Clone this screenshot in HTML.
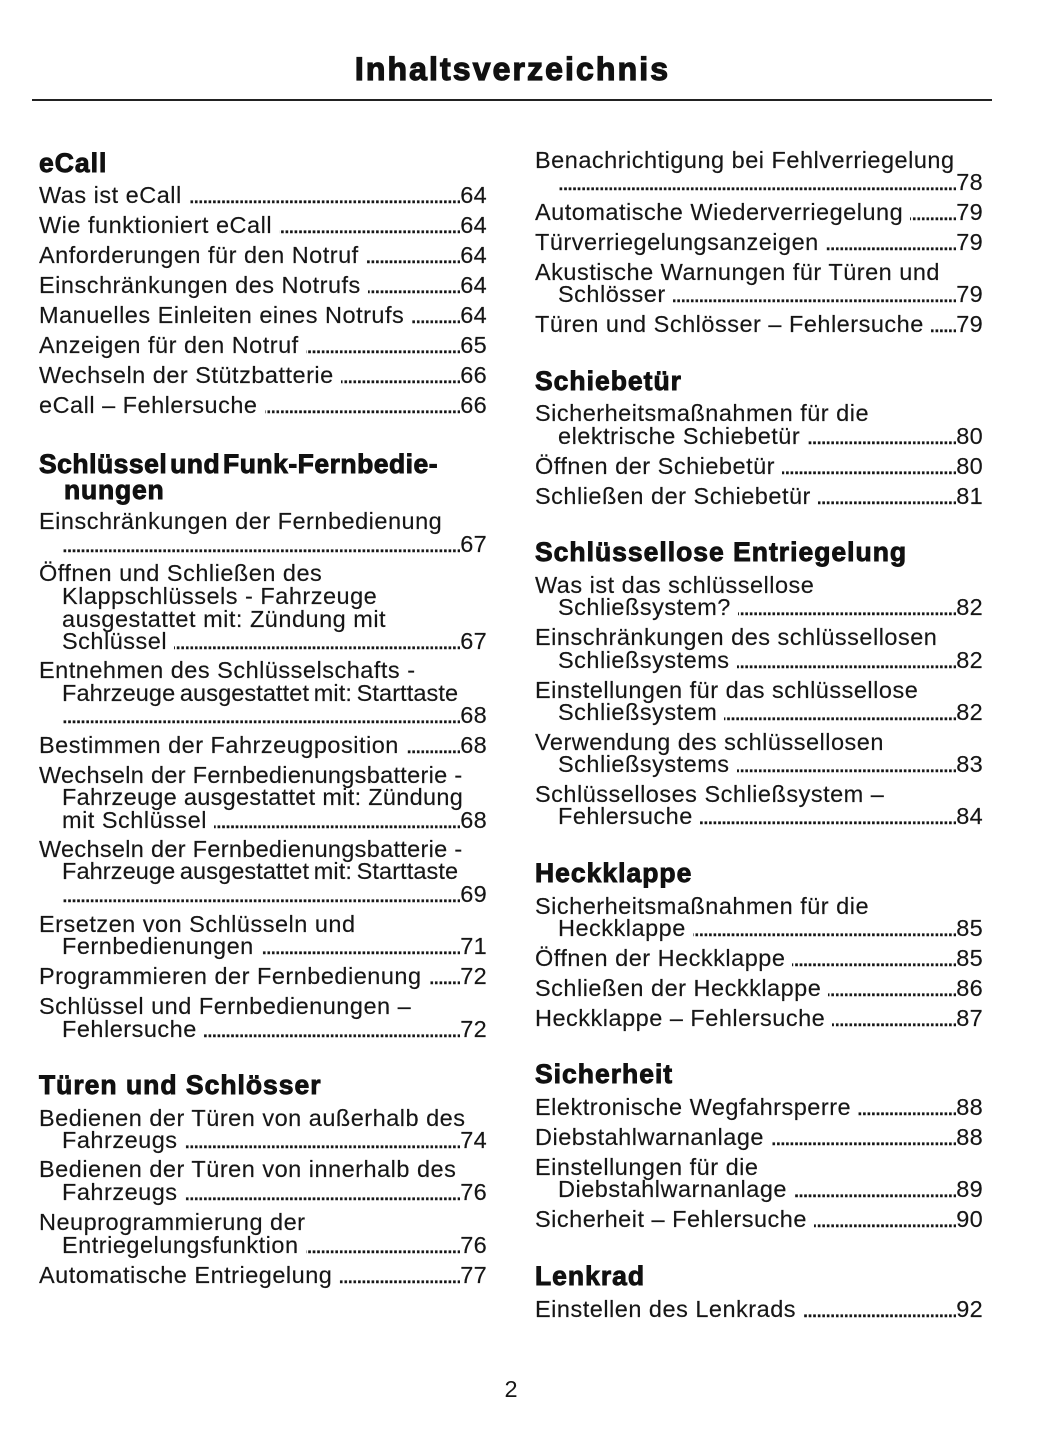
<!DOCTYPE html>
<html lang="de">
<head>
<meta charset="utf-8">
<style>
html,body{margin:0;padding:0;background:#fff;}
body{width:1055px;height:1448px;position:relative;overflow:hidden;font-family:"Liberation Sans",Arial,sans-serif;color:#161616;}
.t{position:absolute;left:0;width:1025px;top:49px;height:40px;line-height:40px;text-align:center;font-weight:bold;font-size:32px;letter-spacing:2.1px;color:#111;-webkit-text-stroke:1.2px #111;}
.rule{position:absolute;left:32px;top:99px;width:960px;height:2px;background:#222;}
.h{position:absolute;height:30px;line-height:30px;font-size:26.5px;font-weight:bold;letter-spacing:1.0px;white-space:nowrap;color:#111;-webkit-text-stroke:0.9px #111;}
.b{position:absolute;height:24px;line-height:24px;font-size:23.5px;letter-spacing:0.5px;white-space:nowrap;display:flex;align-items:baseline;-webkit-text-stroke:0.15px #161616;}
.L{left:39px;width:448px;}
.Li{left:62px;width:425px;}
.R{left:535px;width:448px;}
.Ri{left:558px;width:425px;}
.b i{flex:1;overflow:hidden;direction:rtl;font-style:normal;letter-spacing:-2px;margin-left:7px;min-width:0;-webkit-text-stroke:0.4px #161616;}
.b i.n{margin-left:0;}
.b i::before{content:"........................................................................................................................";}
.b b{font-weight:normal;letter-spacing:0.3px;}
.pg{position:absolute;left:0;width:1022px;text-align:center;top:1377px;height:24px;line-height:24px;font-size:23.5px;}
</style>
</head>
<body>
<div class="t">Inhaltsverzeichnis</div>
<div class="rule"></div>

<!-- LEFT COLUMN -->
<div class="h" style="left:39px;top:147.5px">eCall</div>
<div class="b L" style="top:183px"><span>Was ist eCall</span><i></i><b>64</b></div>
<div class="b L" style="top:213px"><span>Wie funktioniert eCall</span><i></i><b>64</b></div>
<div class="b L" style="top:243px"><span>Anforderungen für den Notruf</span><i></i><b>64</b></div>
<div class="b L" style="top:273px"><span>Einschränkungen des Notrufs</span><i></i><b>64</b></div>
<div class="b L" style="top:303px"><span>Manuelles Einleiten eines Notrufs</span><i></i><b>64</b></div>
<div class="b L" style="top:333px"><span>Anzeigen für den Notruf</span><i></i><b>65</b></div>
<div class="b L" style="top:363px"><span>Wechseln der Stützbatterie</span><i></i><b>66</b></div>
<div class="b L" style="top:393px"><span>eCall – Fehlersuche</span><i></i><b>66</b></div>

<div class="h" style="left:39px;top:448.5px;letter-spacing:0.5px;word-spacing:-5px">Schlüssel und Funk-Fernbedie-</div>
<div class="h" style="left:64px;top:474.5px;letter-spacing:0.8px">nungen</div>
<div class="b L" style="top:509px"><span>Einschränkungen der Fernbedienung</span></div>
<div class="b Li" style="top:532px"><i class="n"></i><b>67</b></div>
<div class="b L" style="top:561px"><span>Öffnen und Schließen des</span></div>
<div class="b Li" style="top:584px"><span>Klappschlüssels - Fahrzeuge</span></div>
<div class="b Li" style="top:607px"><span>ausgestattet mit: Zündung mit</span></div>
<div class="b Li" style="top:629px"><span>Schlüssel</span><i></i><b>67</b></div>
<div class="b L" style="top:658px"><span>Entnehmen des Schlüsselschafts -</span></div>
<div class="b Li" style="top:681px;letter-spacing:0.1px;word-spacing:-2px"><span>Fahrzeuge ausgestattet mit: Starttaste</span></div>
<div class="b Li" style="top:703px"><i class="n"></i><b>68</b></div>
<div class="b L" style="top:733px"><span>Bestimmen der Fahrzeugposition</span><i></i><b>68</b></div>
<div class="b L" style="top:763px;letter-spacing:0.3px"><span>Wechseln der Fernbedienungsbatterie -</span></div>
<div class="b Li" style="top:785px;letter-spacing:0.3px"><span>Fahrzeuge ausgestattet mit: Zündung</span></div>
<div class="b Li" style="top:808px"><span>mit Schlüssel</span><i></i><b>68</b></div>
<div class="b L" style="top:837px;letter-spacing:0.3px"><span>Wechseln der Fernbedienungsbatterie -</span></div>
<div class="b Li" style="top:859px;letter-spacing:0.1px;word-spacing:-2px"><span>Fahrzeuge ausgestattet mit: Starttaste</span></div>
<div class="b Li" style="top:882px"><i class="n"></i><b>69</b></div>
<div class="b L" style="top:912px"><span>Ersetzen von Schlüsseln und</span></div>
<div class="b Li" style="top:934px"><span>Fernbedienungen</span><i></i><b>71</b></div>
<div class="b L" style="top:964px"><span>Programmieren der Fernbedienung</span><i></i><b>72</b></div>
<div class="b L" style="top:994px"><span>Schlüssel und Fernbedienungen –</span></div>
<div class="b Li" style="top:1017px"><span>Fehlersuche</span><i></i><b>72</b></div>

<div class="h" style="left:39px;top:1069.5px">Türen und Schlösser</div>
<div class="b L" style="top:1106px"><span>Bedienen der Türen von außerhalb des</span></div>
<div class="b Li" style="top:1128px"><span>Fahrzeugs</span><i></i><b>74</b></div>
<div class="b L" style="top:1157px"><span>Bedienen der Türen von innerhalb des</span></div>
<div class="b Li" style="top:1180px"><span>Fahrzeugs</span><i></i><b>76</b></div>
<div class="b L" style="top:1210px"><span>Neuprogrammierung der</span></div>
<div class="b Li" style="top:1233px"><span>Entriegelungsfunktion</span><i></i><b>76</b></div>
<div class="b L" style="top:1263px"><span>Automatische Entriegelung</span><i></i><b>77</b></div>

<!-- RIGHT COLUMN -->
<div class="b R" style="top:148px"><span>Benachrichtigung bei Fehlverriegelung</span></div>
<div class="b Ri" style="top:170px"><i class="n"></i><b>78</b></div>
<div class="b R" style="top:200px"><span>Automatische Wiederverriegelung</span><i></i><b>79</b></div>
<div class="b R" style="top:230px"><span>Türverriegelungsanzeigen</span><i></i><b>79</b></div>
<div class="b R" style="top:260px"><span>Akustische Warnungen für Türen und</span></div>
<div class="b Ri" style="top:282px"><span>Schlösser</span><i></i><b>79</b></div>
<div class="b R" style="top:312px"><span>Türen und Schlösser – Fehlersuche</span><i></i><b>79</b></div>

<div class="h" style="left:535px;top:365.5px">Schiebetür</div>
<div class="b R" style="top:401px"><span>Sicherheitsmaßnahmen für die</span></div>
<div class="b Ri" style="top:424px"><span>elektrische Schiebetür</span><i></i><b>80</b></div>
<div class="b R" style="top:454px"><span>Öffnen der Schiebetür</span><i></i><b>80</b></div>
<div class="b R" style="top:484px"><span>Schließen der Schiebetür</span><i></i><b>81</b></div>

<div class="h" style="left:535px;top:536.5px">Schlüssellose Entriegelung</div>
<div class="b R" style="top:573px"><span>Was ist das schlüssellose</span></div>
<div class="b Ri" style="top:595px"><span>Schließsystem?</span><i></i><b>82</b></div>
<div class="b R" style="top:625px"><span>Einschränkungen des schlüssellosen</span></div>
<div class="b Ri" style="top:648px"><span>Schließsystems</span><i></i><b>82</b></div>
<div class="b R" style="top:678px"><span>Einstellungen für das schlüssellose</span></div>
<div class="b Ri" style="top:700px"><span>Schließsystem</span><i></i><b>82</b></div>
<div class="b R" style="top:730px"><span>Verwendung des schlüssellosen</span></div>
<div class="b Ri" style="top:752px"><span>Schließsystems</span><i></i><b>83</b></div>
<div class="b R" style="top:782px"><span>Schlüsselloses Schließsystem –</span></div>
<div class="b Ri" style="top:804px"><span>Fehlersuche</span><i></i><b>84</b></div>

<div class="h" style="left:535px;top:857.5px">Heckklappe</div>
<div class="b R" style="top:894px"><span>Sicherheitsmaßnahmen für die</span></div>
<div class="b Ri" style="top:916px"><span>Heckklappe</span><i></i><b>85</b></div>
<div class="b R" style="top:946px"><span>Öffnen der Heckklappe</span><i></i><b>85</b></div>
<div class="b R" style="top:976px"><span>Schließen der Heckklappe</span><i></i><b>86</b></div>
<div class="b R" style="top:1006px"><span>Heckklappe – Fehlersuche</span><i></i><b>87</b></div>

<div class="h" style="left:535px;top:1058.5px">Sicherheit</div>
<div class="b R" style="top:1095px"><span>Elektronische Wegfahrsperre</span><i></i><b>88</b></div>
<div class="b R" style="top:1125px"><span>Diebstahlwarnanlage</span><i></i><b>88</b></div>
<div class="b R" style="top:1155px"><span>Einstellungen für die</span></div>
<div class="b Ri" style="top:1177px"><span>Diebstahlwarnanlage</span><i></i><b>89</b></div>
<div class="b R" style="top:1207px"><span>Sicherheit – Fehlersuche</span><i></i><b>90</b></div>

<div class="h" style="left:535px;top:1260.5px">Lenkrad</div>
<div class="b R" style="top:1297px"><span>Einstellen des Lenkrads</span><i></i><b>92</b></div>

<div class="pg">2</div>
</body>
</html>
